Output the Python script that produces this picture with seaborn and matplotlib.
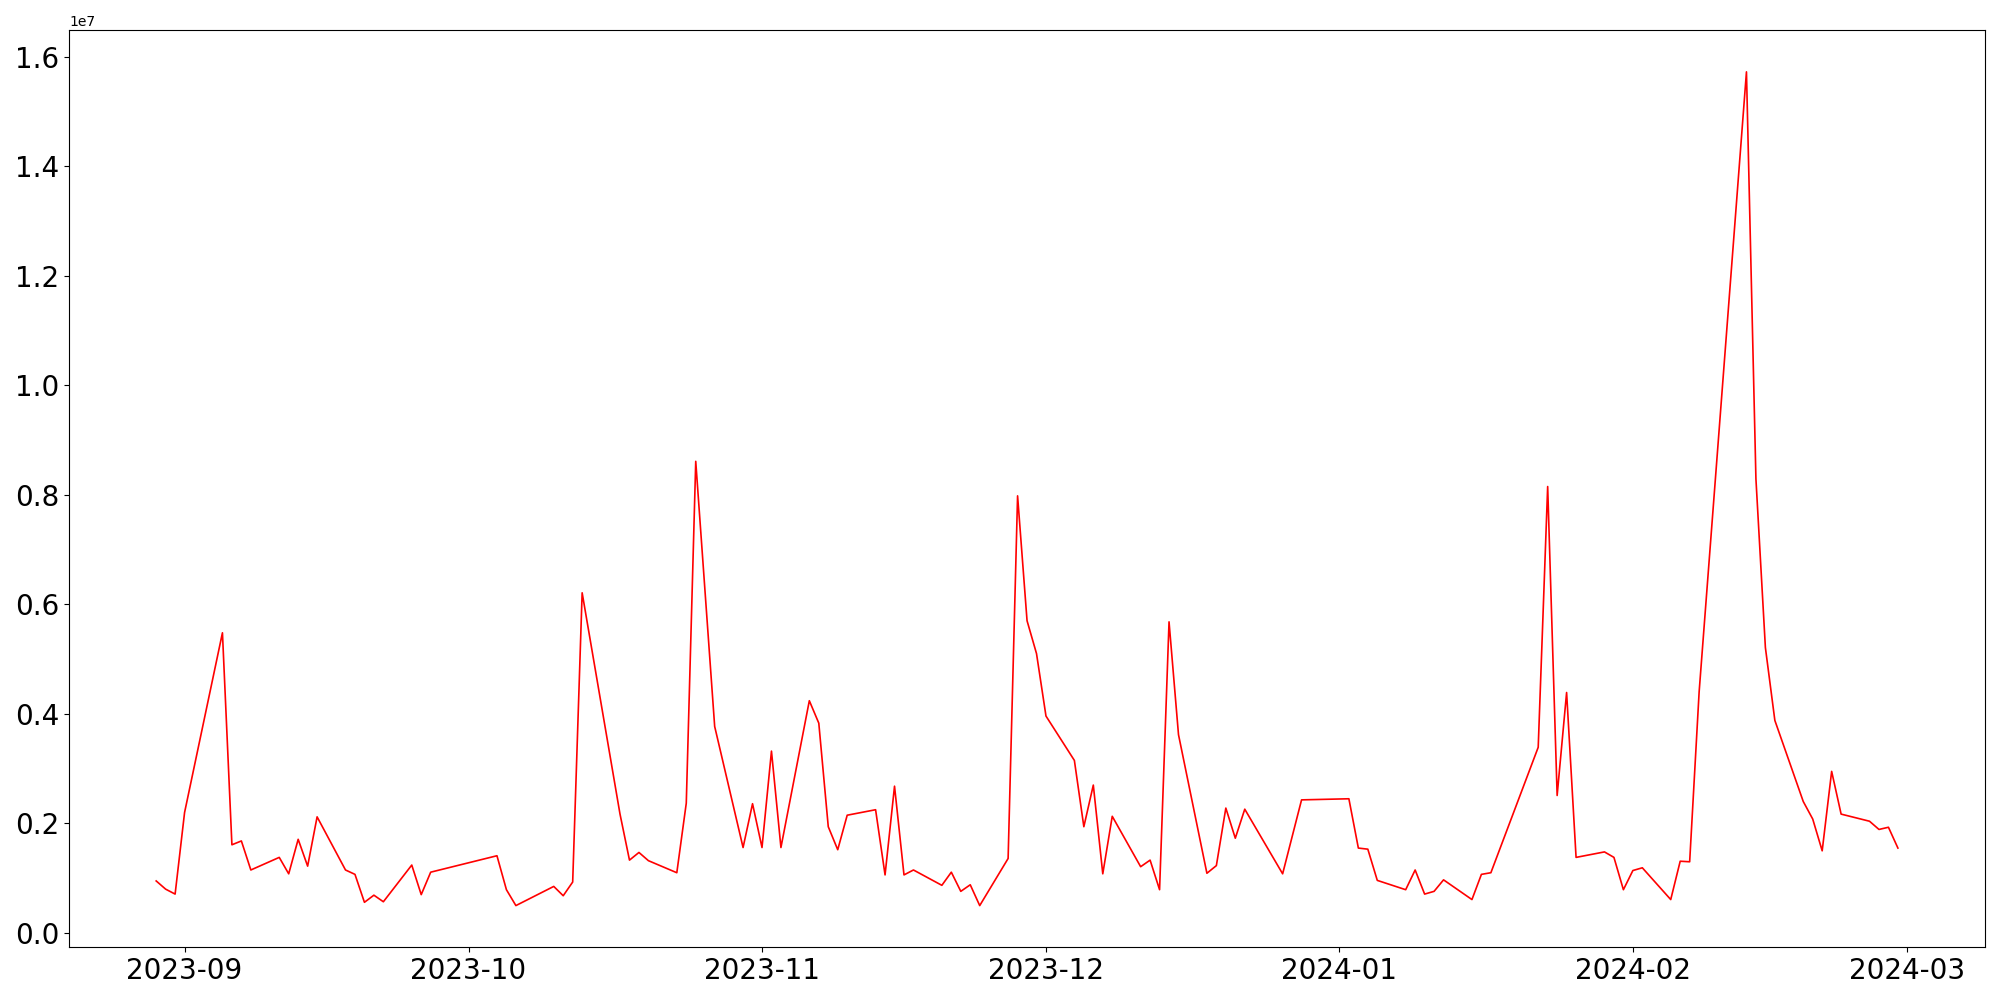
import pandas as pd
import matplotlib
matplotlib.use('Agg')
import matplotlib.pyplot as plt
import seaborn as sns

dates = [
    '2023-08-29', '2023-08-30', '2023-08-31', '2023-09-01', '2023-09-05', '2023-09-06',
    '2023-09-07', '2023-09-08', '2023-09-11', '2023-09-12', '2023-09-13', '2023-09-14',
    '2023-09-15', '2023-09-18', '2023-09-19', '2023-09-20', '2023-09-21', '2023-09-22',
    '2023-09-25', '2023-09-26', '2023-09-27', '2023-10-04', '2023-10-05', '2023-10-06',
    '2023-10-10', '2023-10-11', '2023-10-12', '2023-10-13', '2023-10-17', '2023-10-18',
    '2023-10-19', '2023-10-20', '2023-10-23', '2023-10-24', '2023-10-25', '2023-10-27',
    '2023-10-30', '2023-10-31', '2023-11-01', '2023-11-02', '2023-11-03', '2023-11-06',
    '2023-11-07', '2023-11-08', '2023-11-09', '2023-11-10', '2023-11-13', '2023-11-14',
    '2023-11-15', '2023-11-16', '2023-11-17', '2023-11-20', '2023-11-21', '2023-11-22',
    '2023-11-23', '2023-11-24', '2023-11-27', '2023-11-28', '2023-11-29', '2023-11-30',
    '2023-12-01', '2023-12-04', '2023-12-05', '2023-12-06', '2023-12-07', '2023-12-08',
    '2023-12-11', '2023-12-12', '2023-12-13', '2023-12-14', '2023-12-15', '2023-12-18',
    '2023-12-19', '2023-12-20', '2023-12-21', '2023-12-22', '2023-12-26', '2023-12-28',
    '2024-01-02', '2024-01-03', '2024-01-04', '2024-01-05', '2024-01-08', '2024-01-09',
    '2024-01-10', '2024-01-11', '2024-01-12', '2024-01-15', '2024-01-16', '2024-01-17',
    '2024-01-22', '2024-01-23', '2024-01-24', '2024-01-25', '2024-01-26', '2024-01-29',
    '2024-01-30', '2024-01-31', '2024-02-01', '2024-02-02', '2024-02-05', '2024-02-06',
    '2024-02-07', '2024-02-08', '2024-02-13', '2024-02-14', '2024-02-15', '2024-02-16',
    '2024-02-19', '2024-02-20', '2024-02-21', '2024-02-22', '2024-02-23', '2024-02-26',
    '2024-02-27', '2024-02-28', '2024-02-29',
]

# values in millions
values = [
    0.95, 0.80, 0.71, 2.20, 5.48, 1.61,
    1.68, 1.15, 1.38, 1.08, 1.71, 1.22,
    2.12, 1.15, 1.07, 0.56, 0.69, 0.57,
    1.24, 0.70, 1.11, 1.41, 0.79, 0.50,
    0.85, 0.68, 0.93, 6.21, 2.17, 1.33,
    1.47, 1.32, 1.10, 2.37, 8.61, 3.77,
    1.56, 2.36, 1.56, 3.32, 1.56, 4.24,
    3.83, 1.94, 1.52, 2.15, 2.25, 1.06,
    2.68, 1.06, 1.15, 0.87, 1.11, 0.76,
    0.88, 0.50, 1.36, 7.98, 5.70, 5.10,
    3.96, 3.15, 1.94, 2.70, 1.08, 2.13,
    1.21, 1.33, 0.79, 5.68, 3.62, 1.09,
    1.23, 2.28, 1.73, 2.26, 1.08, 2.43,
    2.45, 1.55, 1.53, 0.96, 0.79, 1.15,
    0.71, 0.76, 0.97, 0.61, 1.07, 1.10,
    3.39, 8.15, 2.51, 4.39, 1.38, 1.48,
    1.38, 0.79, 1.14, 1.19, 0.61, 1.31,
    1.30, 4.40, 15.72, 8.29, 5.21, 3.88,
    2.40, 2.08, 1.50, 2.95, 2.17, 2.04,
    1.89, 1.93, 1.55,
]

df = pd.DataFrame({'date': pd.to_datetime(dates), 'volume': [v * 1e6 for v in values]})

fig, ax = plt.subplots(figsize=(20, 10))
sns.lineplot(data=df, x='date', y='volume', color='red', linewidth=1.2, ax=ax)
ax.set_xlabel('')
ax.set_ylabel('')
ax.tick_params(axis='both', labelsize=20)
fig.tight_layout()
fig.savefig('out.png', dpi=100)
